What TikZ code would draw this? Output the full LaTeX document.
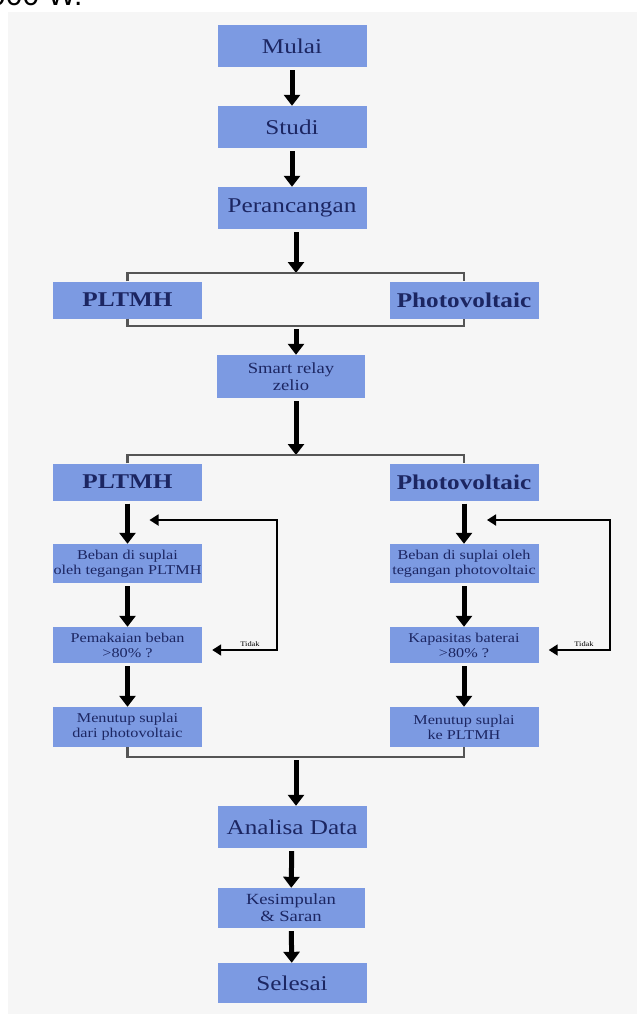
\documentclass[tikz,border=0pt]{standalone}
\usepackage{fontspec}
\setmainfont{Liberation Serif}[FakeStretch=1.2]
\newfontfamily\sansfont{Liberation Sans}
\usepackage{tikz}
\usetikzlibrary{calc, positioning, arrows.meta}
\definecolor{boxblue}{RGB}{124,154,226}
\definecolor{inkblue}{RGB}{28,38,98}
\definecolor{paper}{RGB}{246,246,246}
\definecolor{rulegray}{RGB}{85,85,85}
\tikzstyle{blok}=[inner sep=1pt, shape=rectangle, fill=boxblue, text=inkblue, align=center, minimum width=149pt]
\tikzstyle{besar}=[blok, minimum height=42pt, font=\fontsize{21}{23}\selectfont]
\tikzstyle{sumber}=[blok, minimum height=37pt, font=\bfseries\fontsize{21}{23}\selectfont]
\tikzstyle{sedang}=[blok, minimum height=42pt, font=\fontsize{15.5}{17}\selectfont]
\tikzstyle{kecil}=[blok, minimum height=39pt, font=\fontsize{13.5}{15}\selectfont]
\tikzstyle{panah}=[line width=5pt, -{Triangle[width=16pt,length=11pt]}, shorten <=3pt]
\tikzstyle{garis}=[line width=2.5pt, draw=rulegray]
\tikzstyle{balik}=[line width=1.8pt, {Triangle[width=11pt,length=9pt]}-{Triangle[width=11pt,length=9pt]}]
\tikzset{>=stealth}

\begin{document}
\begin{tikzpicture}[x=1pt, y=-1pt]
\useasboundingbox (0,0) rectangle (637,1014);
\fill[paper] (8,12) rectangle (637,1014);
\begin{scope}
\clip (0,0) rectangle (637,11);
\node[anchor=base west, inner sep=0pt, font=\sansfont\fontsize{30}{32}\selectfont] (atas) at (-11,6) {000 W.};
\end{scope}
%
\node[besar] (mulai) at (292,46) {Mulai};
\node[besar] (studi) at (292,127) {Studi};
\node[besar] (rancang) at (292,208) {Perancangan};
\node[sumber] (pltmh1) at (127.5,300) {PLTMH};
\node[sumber] (pv1) at (464,300) {Photovoltaic};
\node[sedang, minimum width=148pt, minimum height=43pt] (relay) at (291,376.5) {Smart relay\\zelio};
\node[sumber] (pltmh2) at (127.5,482) {PLTMH};
\node[sumber] (pv2) at (464,482) {Photovoltaic};
\node[kecil] (beban1) at (127.5,563.5) {Beban di suplai\\oleh tegangan PLTMH};
\node[kecil] (beban2) at (464,563.5) {Beban di suplai oleh\\tegangan photovoltaic};
\node[kecil, minimum height=36pt] (cek1) at (127.5,645) {Pemakaian beban\\>80\% ?};
\node[kecil, minimum height=36pt] (cek2) at (464,645) {Kapasitas baterai\\>80\% ?};
\node[kecil, minimum height=40pt] (tutup1) at (127.5,727) {Menutup suplai\\dari photovoltaic};
\node[kecil, minimum height=40pt] (tutup2) at (464,727) {Menutup suplai\\ke PLTMH};
\node[besar] (analisa) at (292,827) {Analisa Data};
\node[sedang, minimum width=147pt, minimum height=40pt] (simpul) at (291,908) {Kesimpulan\\\& Saran};
\node[besar, minimum height=40pt] (selesai) at (292,983) {Selesai};
%
\coordinate (g1) at (296,273);
\coordinate (g2) at (296,326);
\coordinate (g3) at (296,455);
\coordinate (g4) at (296,757);
\coordinate (k1) at (277,520);
\coordinate (k2) at (610,520);
%
\foreach \a/\b in {mulai/studi, studi/rancang, analisa/simpul, simpul/selesai}
{
\draw[panah] (\a) -- (\b);
}
\draw[panah] (rancang.south -| g1) -- (g1);
\draw[panah] (g2) -- (g2 |- relay.north);
\draw[panah] (relay.south -| g3) -- (g3);
\draw[panah] (g4) -- (g4 |- analisa.north);
%
\draw[garis] (pltmh1.north) -- (pltmh1.north |- g1) -- (pv1.north |- g1) -- (pv1.north);
\draw[garis] (pltmh1.south) -- (pltmh1.south |- g2) -- (pv1.south |- g2) -- (pv1.south);
\draw[garis] (pltmh2.north) -- (pltmh2.north |- g3) -- (pv2.north |- g3) -- (pv2.north);
\draw[garis] (tutup1.south) -- (tutup1.south |- g4) -- (tutup2.south |- g4) -- (tutup2.south);
%
\foreach \a/\b/\c/\d in {pltmh2/beban1/cek1/tutup1, pv2/beban2/cek2/tutup2}
{
\draw[panah] (\a) -- (\b);
\draw[panah] (\b) -- (\c);
\draw[panah] (\c) -- (\d);
}
%
\draw[balik] ([xshift=22pt]k1 -| beban1) -- (k1) |- ([shift={(10pt,-5pt)}]cek1.east);
\draw[balik] ([xshift=23pt]k2 -| beban2) -- (k2) |- ([shift={(10pt,-5pt)}]cek2.east);
\node[font=\fontsize{7}{8}\selectfont, inner sep=1pt, anchor=south] (tidak1) at (250,648) {Tidak};
\node[font=\fontsize{7}{8}\selectfont, inner sep=1pt, anchor=south] (tidak2) at (584,648) {Tidak};
%
\end{tikzpicture}
\end{document}
